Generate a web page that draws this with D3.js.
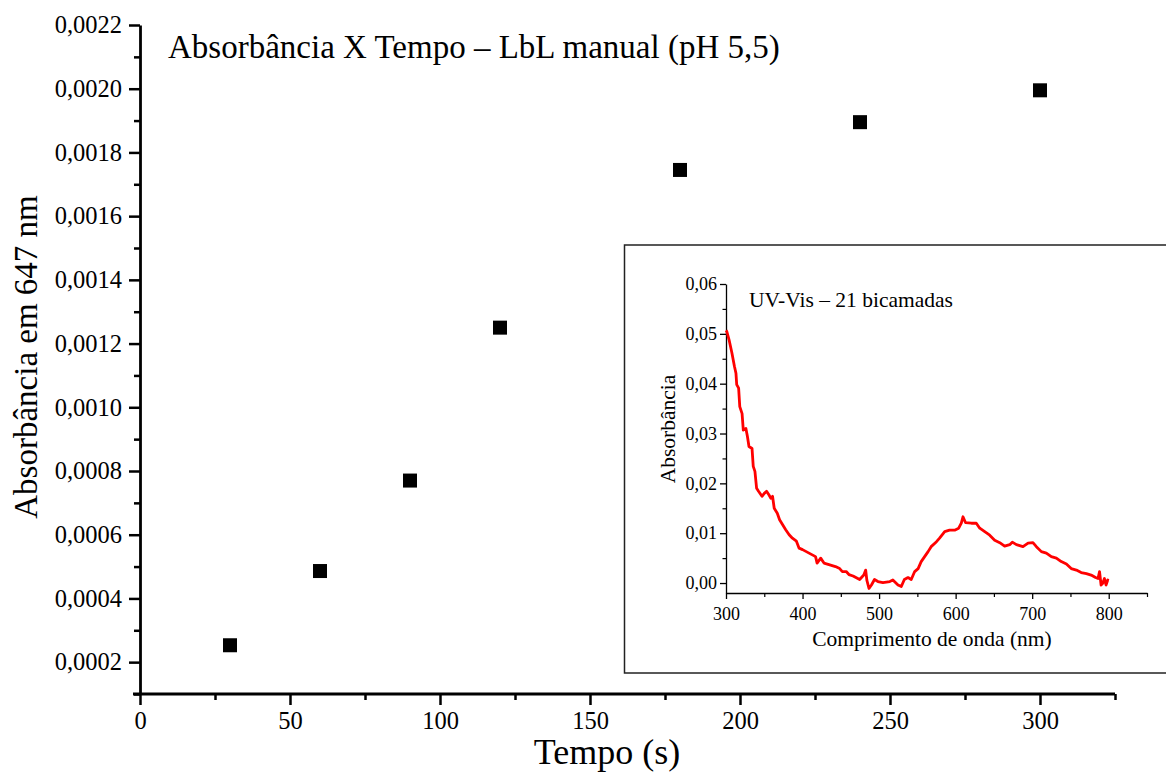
<!DOCTYPE html>
<html>
<head>
<meta charset="utf-8">
<script src="https://cdn.jsdelivr.net/npm/d3@7"></script>
<style>
  body { margin: 0; background: #fff; }
  svg { display: block; font-family: "Liberation Serif", "Times New Roman", serif; }
  .axis path, .axis line { stroke: #000; }
  .axis text { fill: #000; font-family: "Liberation Serif", "Times New Roman", serif; }
</style>
</head>
<body>
<svg id="chart" width="1166" height="774"></svg>
<script>
// main series: absorbance at 647 nm vs time
var tempo = [30, 60, 90, 120, 180, 240, 300];
var absorb647 = [0.000253, 0.000486, 0.00077, 0.00125, 0.001745, 0.001895, 0.001995];

var xTicksMain = [0, 50, 100, 150, 200, 250, 300];
var xMinorMain = [25, 75, 125, 175, 225, 275, 325];
var yTicksMain = [0.0002, 0.0004, 0.0006, 0.0008, 0.0010, 0.0012, 0.0014, 0.0016, 0.0018, 0.0020, 0.0022];
var yMinorMain = [0.0001, 0.0003, 0.0005, 0.0007, 0.0009, 0.0011, 0.0013, 0.0015, 0.0017, 0.0019, 0.0021];

// inset: UV-Vis spectrum (21 bilayers)
var lambda = [300, 301, 304, 307.8, 311, 313, 314, 316.5, 318, 321, 322.6, 326, 328, 330, 334, 335.6, 337.8,
  340, 342.5, 347, 350, 353, 356, 358.6, 360.8, 363, 367, 370, 374, 378, 382.5, 386.8, 392, 395.5, 400,
  408.5, 417, 419, 423.7, 428, 434.5, 443, 448.5, 452, 457, 460.6, 466, 474.6, 480, 482.5, 484, 486.8,
  490, 494, 498.5, 505, 514, 518, 524.7, 529, 533, 537.8, 542, 546.5, 551, 555, 559.5, 564, 568, 575,
  579, 585.7, 592, 598.7, 604, 607.4, 609.6, 613, 620.5, 627, 631.5, 638, 644.5, 651, 657.6, 664, 670.6,
  674, 679.4, 688, 694.6, 701, 705.5, 712, 718.5, 725, 731.6, 738, 744.7, 751, 757.7, 764, 770.8, 777,
  782.8, 786, 788, 790, 792, 794.4, 796.5, 798.7, 800];
var absSpec = [0.0507, 0.0505, 0.0488, 0.0461, 0.0435, 0.0421, 0.0398, 0.0391, 0.0354, 0.034, 0.0307, 0.031,
  0.0294, 0.0274, 0.027, 0.0234, 0.0224, 0.019, 0.0184, 0.0174, 0.018, 0.0184, 0.0177, 0.017, 0.0174,
  0.015, 0.014, 0.0127, 0.0117, 0.0107, 0.0097, 0.009, 0.0084, 0.007, 0.0067, 0.006, 0.0053, 0.004,
  0.005, 0.004, 0.0037, 0.0033, 0.0029, 0.0023, 0.0023, 0.0017, 0.0014, 0.0007, 0.0016, 0.0026, 0.0006,
  -0.0011, -0.0004, 0.0007, 0.0003, 0.0001, 0.0003, 0.0006, -0.0004, -0.0007, 0.0007, 0.0011, 0.0007,
  0.0023, 0.0029, 0.0043, 0.0053, 0.0063, 0.0073, 0.0083, 0.009, 0.0103, 0.0106, 0.0106, 0.011, 0.012,
  0.0133, 0.0121, 0.012, 0.012, 0.011, 0.0103, 0.0096, 0.0086, 0.0081, 0.0074, 0.0077, 0.0082, 0.0077,
  0.0073, 0.008, 0.0081, 0.0073, 0.0063, 0.006, 0.0053, 0.005, 0.0043, 0.0038, 0.0029, 0.0026, 0.0021,
  0.0019, 0.0016, 0.0011, 0.0009, 0.0023, -0.0004, -0.0001, 0.0009, -0.0004, 0.0006, 0.0005];

var xTicksIns = [300, 400, 500, 600, 700, 800];
var xMinorIns = [350, 450, 550, 650, 750, 850];
var yTicksIns = [0, 0.01, 0.02, 0.03, 0.04, 0.05, 0.06];
var yMinorIns = [0.005, 0.015, 0.025, 0.035, 0.045, 0.055];

var ptBR = d3.formatLocale({decimal: ",", thousands: ".", grouping: [3], currency: ["R$", ""]});
var fmt4 = ptBR.format(".4f"),
    fmt2 = ptBR.format(".2f");

var svg = d3.select("#chart");
svg.append("rect").attr("width", 1166).attr("height", 774).attr("fill", "#fff");

//////////////////////
// main plot

var x = d3.scaleLinear().domain([0, 325]).range([140, 1115]);
var y = d3.scaleLinear().domain([0.0001, 0.0022]).range([694, 25]);

var gy = svg.append("g")
    .attr("class", "axis")
    .attr("transform", "translate(" + x(0) + ",0)")
    .call(d3.axisLeft(y).tickValues(yTicksMain).tickFormat(fmt4).tickSize(11).tickSizeOuter(0).tickPadding(7));
gy.selectAll("line").attr("stroke-width", 2.5);
gy.select(".domain").attr("stroke-width", 2.8);
gy.selectAll("text").attr("font-size", 24.5);

var gyMinor = svg.append("g")
    .attr("class", "axis")
    .attr("transform", "translate(" + x(0) + ",0)")
    .call(d3.axisLeft(y).tickValues(yMinorMain).tickFormat("").tickSize(6).tickSizeOuter(0));
gyMinor.select(".domain").remove();
gyMinor.selectAll("line").attr("stroke-width", 2.5);

var gx = svg.append("g")
    .attr("class", "axis")
    .attr("transform", "translate(0," + y(0.0001) + ")")
    .call(d3.axisBottom(x).tickValues(xTicksMain).tickSize(11).tickSizeOuter(0).tickPadding(7));
gx.selectAll("line").attr("stroke-width", 2.5);
gx.select(".domain").attr("stroke-width", 2.8).attr("d", "M" + (x(0) - 7) + ",0H" + x(325));
gx.selectAll("text").attr("font-size", 24.5);

var gxMinor = svg.append("g")
    .attr("class", "axis")
    .attr("transform", "translate(0," + y(0.0001) + ")")
    .call(d3.axisBottom(x).tickValues(xMinorMain).tickFormat("").tickSize(6).tickSizeOuter(0));
gxMinor.select(".domain").remove();
gxMinor.selectAll("line").attr("stroke-width", 2.5);

// squares
var sq = 14;
svg.append("g").selectAll("rect")
    .data(tempo)
  .enter().append("rect")
    .attr("x", function(d){ return x(d) - sq / 2; })
    .attr("y", function(d, i){ return y(absorb647[i]) - sq / 2; })
    .attr("width", sq)
    .attr("height", sq)
    .attr("fill", "#000");

svg.append("text")
    .attr("x", 168)
    .attr("y", 58)
    .attr("font-size", 33)
    .text("Absorbância X Tempo – LbL manual (pH 5,5)");

svg.append("text")
    .attr("x", 607)
    .attr("y", 764)
    .attr("text-anchor", "middle")
    .attr("font-size", 36)
    .text("Tempo (s)");

svg.append("text")
    .attr("transform", "translate(37,357) rotate(-90)")
    .attr("text-anchor", "middle")
    .attr("font-size", 33)
    .text("Absorbância em 647 nm");

//////////////////////
// inset

svg.append("rect")
    .attr("x", 624.5)
    .attr("y", 245)
    .attr("width", 600)
    .attr("height", 428)
    .attr("fill", "#fff")
    .attr("stroke", "#222")
    .attr("stroke-width", 1.5);

var ix = d3.scaleLinear().domain([300, 850]).range([726, 1147]);
var iy = d3.scaleLinear().domain([-0.002, 0.06]).range([593, 284]);

var iyAx = svg.append("g")
    .attr("class", "axis")
    .attr("transform", "translate(" + ix(300) + ",0)")
    .call(d3.axisLeft(iy).tickValues(yTicksIns).tickFormat(fmt2).tickSize(6).tickSizeOuter(0).tickPadding(3));
iyAx.selectAll("line, .domain").attr("stroke-width", 1.3);
iyAx.selectAll("text").attr("font-size", 18);

var iyMinor = svg.append("g")
    .attr("class", "axis")
    .attr("transform", "translate(" + ix(300) + ",0)")
    .call(d3.axisLeft(iy).tickValues(yMinorIns).tickFormat("").tickSize(3.5).tickSizeOuter(0));
iyMinor.select(".domain").remove();
iyMinor.selectAll("line").attr("stroke-width", 1.2);

var ixAx = svg.append("g")
    .attr("class", "axis")
    .attr("transform", "translate(0," + iy(-0.002) + ")")
    .call(d3.axisBottom(ix).tickValues(xTicksIns).tickSize(6).tickSizeOuter(0).tickPadding(8));
ixAx.selectAll("line, .domain").attr("stroke-width", 1.3);
ixAx.selectAll("text").attr("font-size", 18);

var ixMinor = svg.append("g")
    .attr("class", "axis")
    .attr("transform", "translate(0," + iy(-0.002) + ")")
    .call(d3.axisBottom(ix).tickValues(xMinorIns).tickFormat("").tickSize(4).tickSizeOuter(0));
ixMinor.select(".domain").remove();
ixMinor.selectAll("line").attr("stroke-width", 1.2);

var line = d3.line()
    .x(function(d){ return ix(d); })
    .y(function(d, i){ return iy(absSpec[i]); });

svg.append("path")
    .datum(lambda)
    .attr("d", line)
    .attr("fill", "none")
    .attr("stroke", "#ff0000")
    .attr("stroke-width", 2.8)
    .attr("stroke-linejoin", "round");

svg.append("text")
    .attr("x", 749)
    .attr("y", 307)
    .attr("font-size", 21.5)
    .text("UV-Vis – 21 bicamadas");

svg.append("text")
    .attr("x", 932)
    .attr("y", 646)
    .attr("text-anchor", "middle")
    .attr("font-size", 21.5)
    .text("Comprimento de onda (nm)");

svg.append("text")
    .attr("transform", "translate(675,429) rotate(-90)")
    .attr("text-anchor", "middle")
    .attr("font-size", 21.5)
    .text("Absorbância");
</script>
</body>
</html>
